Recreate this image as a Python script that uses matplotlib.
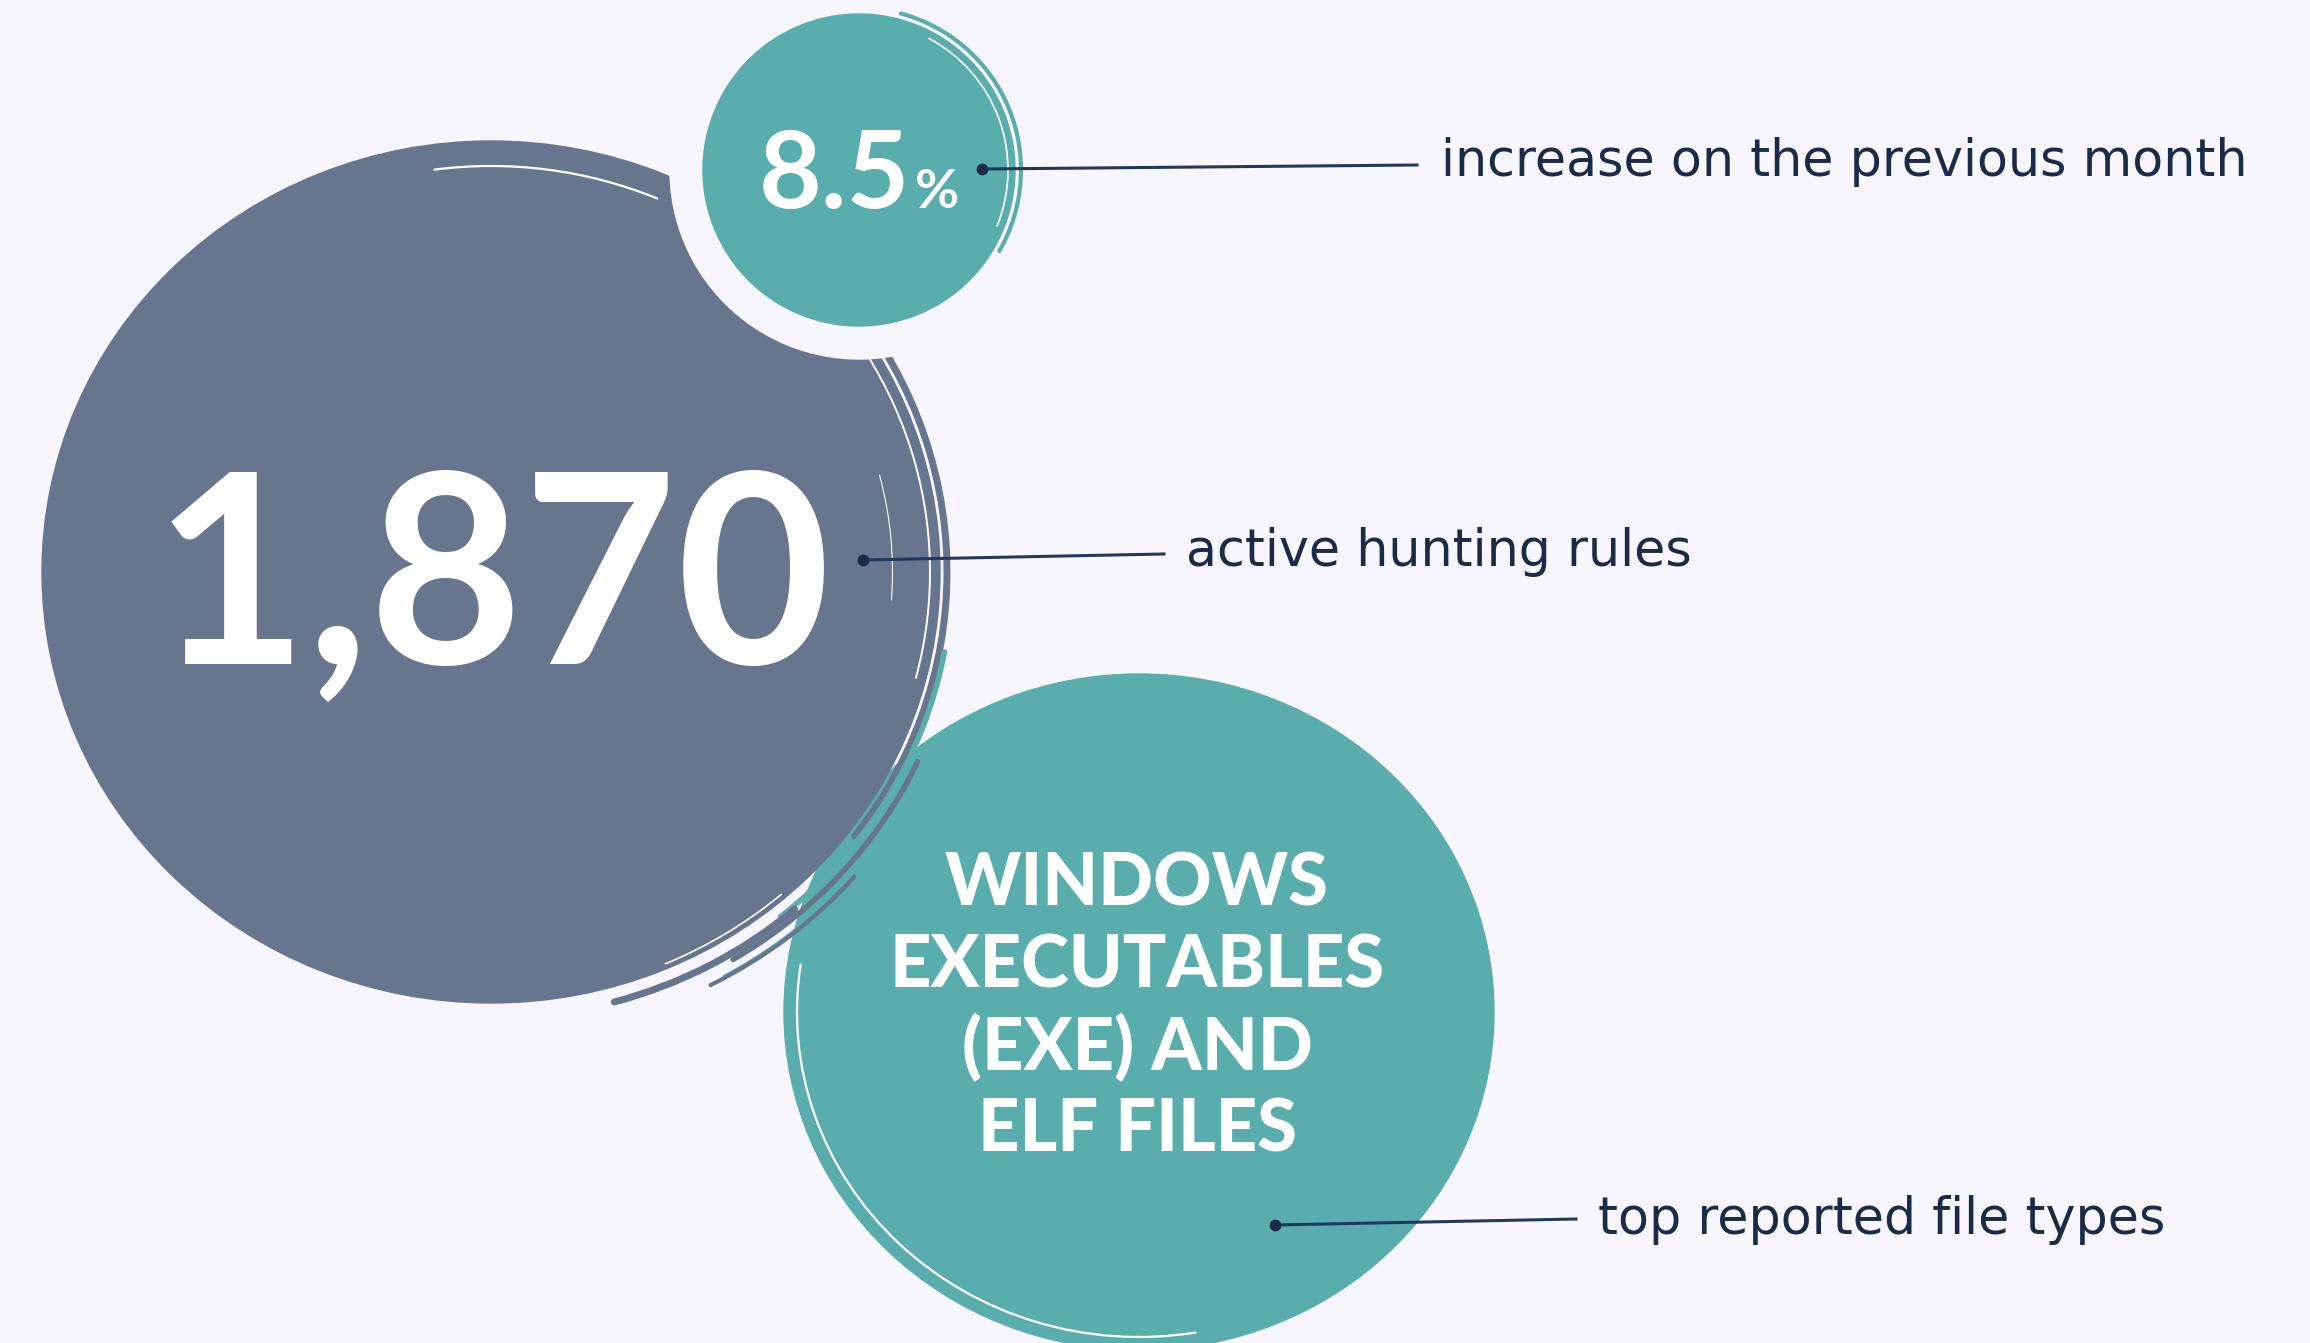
import matplotlib
matplotlib.use('Agg')
import matplotlib.pyplot as plt
from matplotlib.patches import Ellipse, Circle, Arc

# figures shown on the chart
stat_values = ['8.5', '1,870']
stat_suffix = ['%', '']
labels = ['increase on the previous month', 'active hunting rules', 'top reported file types']
file_types = ['WINDOWS', 'EXECUTABLES', '(EXE) AND', 'ELF FILES']

# colours
bg = '#F8F6FD'
slate = '#67758F'
teal = '#5AADAD'
navy = '#1B2A47'
line_col = '#23375A'

W, H = 2310, 1343

fig = plt.figure(figsize=(W / 100, H / 100), dpi=100)
fig.patch.set_facecolor(bg)
ax = fig.add_axes([0, 0, 1, 1])
ax.set_xlim(0, W)
ax.set_ylim(H, 0)
ax.axis('off')
ax.set_facecolor(bg)

# blobs: centre, width, height
big = ((491, 572), 898, 862)
bottom = ((1139, 1012), 710, 676)
small = ((859, 170), 156)

ax.add_patch(Ellipse(bottom[0], bottom[1], bottom[2], color=teal, zorder=1))
ax.add_patch(Ellipse(big[0], big[1], big[2], color=slate, zorder=2))
ax.add_patch(Circle(small[0], 189, color=bg, zorder=5))
ax.add_patch(Circle(small[0], small[1], color=teal, zorder=6))


def stroke(c, w, h, t1, t2, col, lw, z):
    ax.add_patch(Arc(c, w, h, theta1=t1, theta2=t2, color=col, lw=lw, zorder=z,
                     capstyle='round'))


# brush-like edges
stroke(big[0], big[1] - 50, big[2] - 50, -98, -66, 'white', 1.6, 3)
stroke(big[0], big[1] - 20, big[2] - 20, -48, 14, 'white', 1.4, 3)
stroke(big[0], big[1] - 95, big[2] - 95, -14, 4, 'white', 0.8, 3)
stroke(big[0], big[1] + 14, big[2] + 14, -42, 36, slate, 5, 2)
stroke(big[0], big[1] + 24, big[2] + 24, 10, 50, teal, 4, 2)
stroke(big[0], big[1] + 42, big[2] + 42, 24, 58, slate, 4, 2)
stroke(big[0], big[1] + 64, big[2] + 64, 30, 60, teal, 3, 2)
stroke(big[0], big[1] + 30, big[2] + 30, 48, 74, slate, 5, 2)
stroke(big[0], big[1] + 66, big[2] + 66, 40, 62, slate, 3, 2)
stroke(big[0], big[1] - 10, big[2] - 10, 48, 66, 'white', 1.2, 3)
stroke(bottom[0], bottom[1] - 26, bottom[2] - 26, 80, 188, 'white', 1.6, 1)
stroke(small[0], 2 * small[1] - 14, 2 * small[1] - 14, -62, 22, 'white', 1.2, 7)
stroke(small[0], 2 * small[1] + 12, 2 * small[1] + 12, -75, 30, teal, 3, 6)

# big numbers
ax.text(492, 664, stat_values[1] + stat_suffix[1], color='white', fontsize=191,
        family='Lato', weight='bold', ha='center', va='baseline', zorder=10)
ax.text(910, 208, stat_values[0], color='white', fontsize=78,
        family='Lato', weight='bold', ha='right', va='baseline', zorder=10)
ax.text(915, 208, stat_suffix[0], color='white', fontsize=39,
        family='Lato', weight='bold', ha='left', va='baseline', zorder=10)

# stencil-style file types
for i, t in enumerate(file_types):
    ax.text(1137, 906 + i * 82, t, color='white', fontsize=52,
            family='Lato', weight='black',
            ha='center', va='baseline', zorder=10)

# leader lines
leaders = [((982, 169), (1417, 165)), ((863, 560), (1164, 554)), ((1275, 1225), (1576, 1219))]
label_pos = [(1441, 176), (1186, 566), (1598, 1234)]
for (p0, p1), (lx, ly), lab in zip(leaders, label_pos, labels):
    ax.plot([p0[0], p1[0]], [p0[1], p1[1]], color=line_col, lw=2.2, zorder=11)
    ax.plot(p0[0], p0[1], 'o', color=navy, markersize=7.5, zorder=12)
    ax.text(lx, ly, lab, color=navy, fontsize=36.5, family='DejaVu Sans',
            ha='left', va='baseline', zorder=10)

fig.savefig('out.png', dpi=100, facecolor=bg)
